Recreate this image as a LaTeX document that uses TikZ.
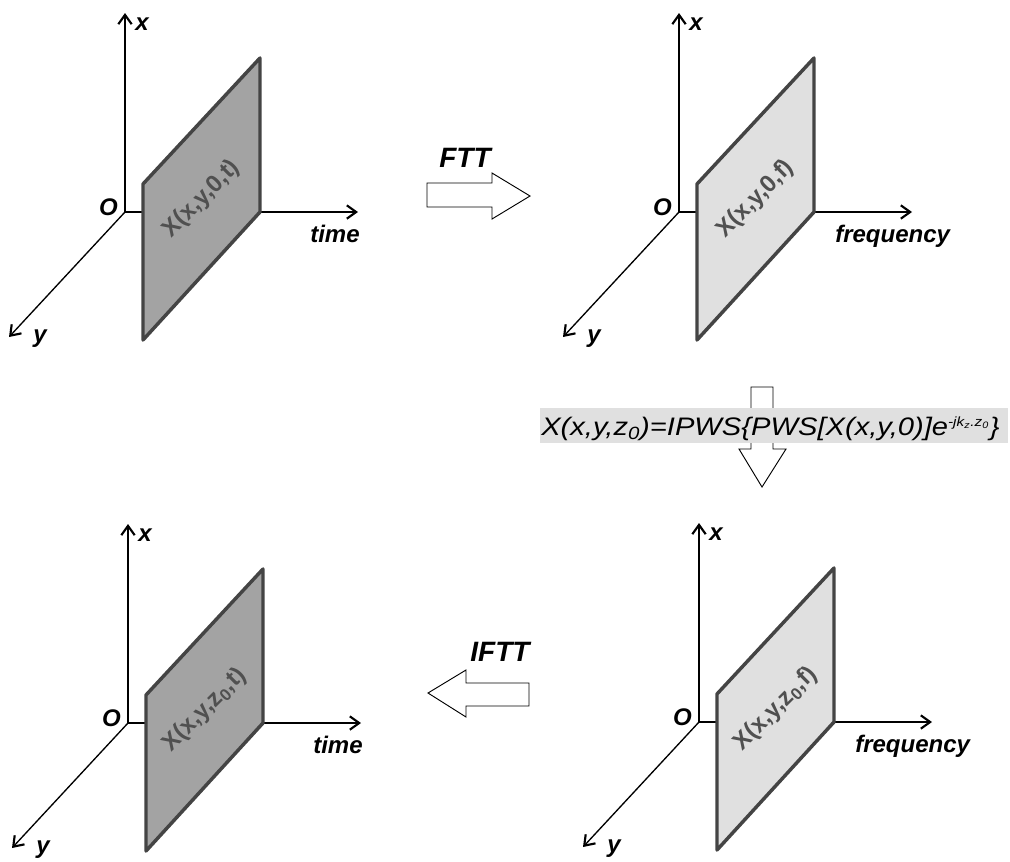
\documentclass[tikz,border=0pt]{standalone}
\usepackage{fontspec}
\setmainfont{Liberation Sans}
\usepackage{graphicx}
\usetikzlibrary{positioning,calc,arrows.meta}
\tikzset{>={Straight Barb[length=7pt,width=10pt,line width=1.6pt]}}

\definecolor{darkplane}{HTML}{A3A3A3}
\definecolor{lightplane}{HTML}{E0E0E0}
\definecolor{edgegray}{HTML}{444444}
\definecolor{textgray}{HTML}{505050}

\tikzset{
  axis/.style={->,line width=1.5pt},
  yaxis/.style={->,line width=1pt},
  plane/.style={draw=edgegray,line width=2.6pt,line join=round},
  planelabel/.style={text=textgray,font=\bfseries\fontsize{18}{18}\selectfont,rotate=45,inner sep=0pt},
  axlabel/.style={font=\bfseries\itshape\fontsize{18}{18}\selectfont,inner sep=0pt},
  oplabel/.style={font=\bfseries\itshape\fontsize{21}{21}\selectfont,inner sep=0pt},
  blockarrow/.style={draw,line width=.7pt,fill=white,line join=miter},
}

% one panel: name, origin, fill, axis word, word offset, plane text
\newcommand{\panel}[6]{%
\begin{scope}[shift={#2}]
\coordinate (#1O) at (0,0);
\coordinate (#1x) at (0,-199);
\coordinate (#1h) at (233,0);
\coordinate (#1y) at (-116,125);
\draw[yaxis] (#1O) -- (#1y);
\draw[axis] (#1O) -- (#1x);
\draw[axis] (#1O) -- (#1h);
\draw[plane,fill=#3] (18,128) coordinate (#1a) -- (18,-28) coordinate (#1b)
  -- (135,-154) coordinate (#1c) -- (135,0) coordinate (#1d) -- cycle;
\node[planelabel] (#1t) at ($(#1a)!.5!(#1c)$) {#6};
\node[axlabel,anchor=base west] (#1lx) at (10,-182) {x};
\node[axlabel,anchor=base east] (#1lo) at (-7,3) {O};
\node[axlabel,anchor=base west] (#1ly) at (-92,130) {y};
\node[axlabel,anchor=base west] (#1lh) at (#5,30) {#4};
\end{scope}}

\begin{document}
\begin{tikzpicture}[x=.75pt,y=-.75pt]
\useasboundingbox (0,0) rectangle (1010,861);

\panel{tl}{(125,212)}{darkplane}{time}{185}{X(x,y,0,t)}
\panel{tr}{(679,212)}{lightplane}{frequency}{156}{X(x,y,0,f)}
\panel{bl}{(128,723)}{darkplane}{time}{185}{X(x,y,z\textsubscript{0},t)}
\panel{br}{(699,722)}{lightplane}{frequency}{156}{X(x,y,z\textsubscript{0},f)}

% FTT
\draw[blockarrow] (427,183) -- (492,183) -- (492,173) -- (530,196)
  -- (492,219) -- (492,207) -- (427,207) -- cycle;
\node[oplabel] (ftt) at (465,158) {FTT};

% IFTT
\draw[blockarrow] (529,683) -- (466,683) -- (466,670) -- (428,693)
  -- (466,717) -- (466,706) -- (529,706) -- cycle;
\node[oplabel] (iftt) at (500,652) {IFTT};

% propagation
\draw[blockarrow] (751,387) -- (773,387) -- (773,449) -- (786,449)
  -- (762,487) -- (739,449) -- (751,449) -- cycle;
\fill[lightplane] (540,408) rectangle (1008,443);
\node[anchor=base west,inner sep=0pt,font=\itshape\fontsize{19}{19}\selectfont] (pws) at (541,435)
  {\scalebox{1.15}[1]{X(x,y,z\textsubscript{0})=IPWS\{PWS[X(x,y,0)]e\textsuperscript{\fontsize{10}{10}\selectfont -jk\textsubscript{z}.z\textsubscript{0}}\}}};
\end{tikzpicture}
\end{document}
